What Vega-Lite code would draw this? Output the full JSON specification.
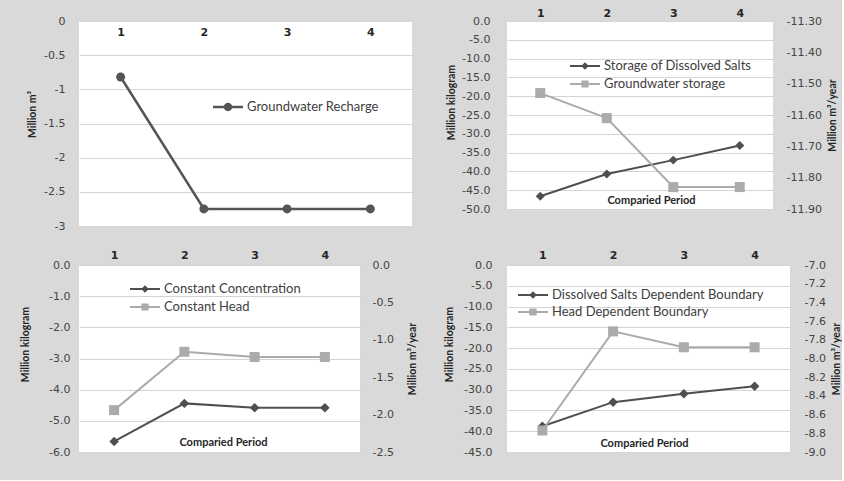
{
  "$schema": "https://vega.github.io/schema/vega-lite/v6.json",
  "background": "#d9d9d9",
  "padding": {"left": 20, "top": 7, "right": 0, "bottom": 23},
  "columns": 2,
  "align": "each",
  "bounds": "flush",
  "spacing": {"row": 39, "column": 95},
  "resolve": {"scale": {"color": "independent", "shape": "independent"}, "legend": {"color": "independent", "shape": "independent"}},
  "concat": [
    {
      "width": 333,
      "height": 205,
      "data": {"values": [
        {"period": "1", "series": "Groundwater Recharge", "value": -0.82},
        {"period": "2", "series": "Groundwater Recharge", "value": -2.75},
        {"period": "3", "series": "Groundwater Recharge", "value": -2.75},
        {"period": "4", "series": "Groundwater Recharge", "value": -2.75}
      ]},
      "encoding": {
        "x": {"field": "period", "type": "ordinal", "scale": {"type": "point", "padding": 0.5, "domain": ["1", "2", "3", "4"]},
          "axis": {"orient": "top", "title": null, "labelAngle": 0, "labelPadding": -11, "labelBaseline": "middle", "labelFontWeight": "bold", "labelColor": "#262626", "grid": false, "tickSize": 0}},
        "y": {"field": "value", "type": "quantitative", "scale": {"domain": [-3, 0], "nice": false, "zero": false},
          "axis": {"values": [0, -0.5, -1, -1.5, -2, -2.5, -3], "format": "~g", "title": "Million m³", "titlePadding": 6, "labelPadding": 14, "grid": true, "titleY": 93}}
      },
      "layer": [
        {"mark": {"type": "line", "color": "#555555", "strokeWidth": 2.5}, "encoding": {}},
        {"mark": {"type": "point", "shape": "circle", "filled": true, "size": 80, "color": "#555555", "opacity": 1}, "encoding": {}},
        {
          "transform": [{"filter": "false"}],
          "mark": {"type": "point", "filled": true},
          "encoding": {
            "color": {"field": "series", "type": "nominal", "scale": {"domain": ["Groundwater Recharge"], "range": ["#555555"]},
              "legend": {"orient": "none", "legendX": 139, "legendY": 76, "title": null}},
            "shape": {"field": "series", "type": "nominal", "scale": {"domain": ["Groundwater Recharge"], "range": ["M-1.5,-0.12L1.5,-0.12L1.5,0.12L-1.5,0.12Z M-0.42,0A0.42,0.42 0 1,1 0.42,0A0.42,0.42 0 1,1 -0.42,0Z"]},
              "legend": {"orient": "none", "legendX": 139, "legendY": 76, "title": null}}
          }
        }
      ]
    },
    {
      "width": 266,
      "height": 188,
      "data": {"values": [
        {"period": "1", "series": "Storage of Dissolved Salts", "value": -46.6},
        {"period": "2", "series": "Storage of Dissolved Salts", "value": -40.7},
        {"period": "3", "series": "Storage of Dissolved Salts", "value": -37.0},
        {"period": "4", "series": "Storage of Dissolved Salts", "value": -33.1},
        {"period": "1", "series": "Groundwater storage", "value": -11.53},
        {"period": "2", "series": "Groundwater storage", "value": -11.61},
        {"period": "3", "series": "Groundwater storage", "value": -11.83},
        {"period": "4", "series": "Groundwater storage", "value": -11.83}
      ]},
      "encoding": {
        "x": {"field": "period", "type": "ordinal", "scale": {"type": "point", "padding": 0.5, "domain": ["1", "2", "3", "4"]},
          "axis": {"orient": "top", "title": "Comparied Period", "titleY": 179, "titleX": 144, "titleBaseline": "middle", "titleFontSize": 11, "labelAngle": 0, "labelPadding": 8, "labelBaseline": "middle", "labelFontWeight": "bold", "labelColor": "#262626", "grid": false, "tickSize": 0}}
      },
      "layer": [
        {
          "transform": [{"filter": "datum.series === 'Storage of Dissolved Salts'"}],
          "encoding": {"y": {"field": "value", "type": "quantitative", "scale": {"domain": [-50, 0], "nice": false, "zero": false},
            "axis": {"orient": "left", "values": [0, -5, -10, -15, -20, -25, -30, -35, -40, -45, -50], "format": ".1f", "title": "Million kilogram", "titlePadding": 5, "labelPadding": 17, "grid": true, "titleY": 81}}},
          "layer": [
            {"mark": {"type": "line", "color": "#4f4f4f", "strokeWidth": 2}, "encoding": {}},
            {"mark": {"type": "point", "shape": "diamond", "filled": true, "size": 80, "color": "#4f4f4f", "opacity": 1}, "encoding": {}}
          ]
        },
        {
          "transform": [{"filter": "datum.series === 'Groundwater storage'"}],
          "encoding": {"y": {"field": "value", "type": "quantitative", "scale": {"domain": [-11.9, -11.3], "nice": false, "zero": false},
            "axis": {"orient": "right", "values": [-11.3, -11.4, -11.5, -11.6, -11.7, -11.8, -11.9], "format": ".2f", "title": "Million m³/year", "titleAngle": 270, "titlePadding": 16, "labelPadding": 13, "grid": false}}},
          "layer": [
            {"mark": {"type": "line", "color": "#ababab", "strokeWidth": 2}, "encoding": {}},
            {"mark": {"type": "point", "shape": "square", "filled": true, "size": 100, "color": "#ababab", "opacity": 1}, "encoding": {}}
          ]
        },
        {
          "transform": [{"filter": "false"}],
          "mark": {"type": "point", "filled": true},
          "encoding": {
            "color": {"field": "series", "type": "nominal", "scale": {"domain": ["Storage of Dissolved Salts", "Groundwater storage"], "range": ["#4f4f4f", "#ababab"]},
              "legend": {"orient": "none", "legendX": 68, "legendY": 35, "title": null}},
            "shape": {"field": "series", "type": "nominal", "scale": {"domain": ["Storage of Dissolved Salts", "Groundwater storage"], "range": ["M-1.5,-0.1L1.5,-0.1L1.5,0.1L-1.5,0.1Z M0,-0.38L0.38,0L0,0.38L-0.38,0Z", "M-1.5,-0.1L1.5,-0.1L1.5,0.1L-1.5,0.1Z M-0.36,-0.36L0.36,-0.36L0.36,0.36L-0.36,0.36Z"]},
              "legend": {"orient": "none", "legendX": 68, "legendY": 35, "title": null}}
          }
        }
      ],
      "resolve": {"scale": {"y": "independent"}}
    },
    {
      "width": 281,
      "height": 187,
      "data": {"values": [
        {"period": "1", "series": "Constant Concentration", "value": -5.66},
        {"period": "2", "series": "Constant Concentration", "value": -4.44},
        {"period": "3", "series": "Constant Concentration", "value": -4.58},
        {"period": "4", "series": "Constant Concentration", "value": -4.58},
        {"period": "1", "series": "Constant Head", "value": -1.94},
        {"period": "2", "series": "Constant Head", "value": -1.16},
        {"period": "3", "series": "Constant Head", "value": -1.23},
        {"period": "4", "series": "Constant Head", "value": -1.23}
      ]},
      "encoding": {
        "x": {"field": "period", "type": "ordinal", "scale": {"type": "point", "padding": 0.5, "domain": ["1", "2", "3", "4"]},
          "axis": {"orient": "top", "title": "Comparied Period", "titleY": 177, "titleX": 144, "titleBaseline": "middle", "titleFontSize": 11, "labelAngle": 0, "labelPadding": 10, "labelBaseline": "middle", "labelFontWeight": "bold", "labelColor": "#262626", "grid": false, "tickSize": 0}}
      },
      "layer": [
        {
          "transform": [{"filter": "datum.series === 'Constant Concentration'"}],
          "encoding": {"y": {"field": "value", "type": "quantitative", "scale": {"domain": [-6, 0], "nice": false, "zero": false},
            "axis": {"orient": "left", "values": [0, -1, -2, -3, -4, -5, -6], "format": ".1f", "title": "Million kilogram", "titlePadding": 18, "labelPadding": 9, "grid": true, "titleY": 79}}},
          "layer": [
            {"mark": {"type": "line", "color": "#4f4f4f", "strokeWidth": 2}, "encoding": {}},
            {"mark": {"type": "point", "shape": "diamond", "filled": true, "size": 90, "color": "#4f4f4f", "opacity": 1}, "encoding": {}}
          ]
        },
        {
          "transform": [{"filter": "datum.series === 'Constant Head'"}],
          "encoding": {"y": {"field": "value", "type": "quantitative", "scale": {"domain": [-2.5, 0], "nice": false, "zero": false},
            "axis": {"orient": "right", "values": [0, -0.5, -1, -1.5, -2, -2.5], "format": ".1f", "title": "Million m³/year", "titleAngle": 270, "titlePadding": 24, "labelPadding": 12, "grid": false}}},
          "layer": [
            {"mark": {"type": "line", "color": "#ababab", "strokeWidth": 2}, "encoding": {}},
            {"mark": {"type": "point", "shape": "square", "filled": true, "size": 100, "color": "#ababab", "opacity": 1}, "encoding": {}}
          ]
        },
        {
          "transform": [{"filter": "false"}],
          "mark": {"type": "point", "filled": true},
          "encoding": {
            "color": {"field": "series", "type": "nominal", "scale": {"domain": ["Constant Concentration", "Constant Head"], "range": ["#4f4f4f", "#ababab"]},
              "legend": {"orient": "none", "legendX": 56, "legendY": 14, "title": null}},
            "shape": {"field": "series", "type": "nominal", "scale": {"domain": ["Constant Concentration", "Constant Head"], "range": ["M-1.5,-0.1L1.5,-0.1L1.5,0.1L-1.5,0.1Z M0,-0.38L0.38,0L0,0.38L-0.38,0Z", "M-1.5,-0.1L1.5,-0.1L1.5,0.1L-1.5,0.1Z M-0.36,-0.36L0.36,-0.36L0.36,0.36L-0.36,0.36Z"]},
              "legend": {"orient": "none", "legendX": 56, "legendY": 14, "title": null}}
          }
        }
      ],
      "resolve": {"scale": {"y": "independent"}}
    },
    {
      "width": 283,
      "height": 187,
      "data": {"values": [
        {"period": "1", "series": "Dissolved Salts Dependent Boundary", "value": -38.8},
        {"period": "2", "series": "Dissolved Salts Dependent Boundary", "value": -33.0},
        {"period": "3", "series": "Dissolved Salts Dependent Boundary", "value": -31.0},
        {"period": "4", "series": "Dissolved Salts Dependent Boundary", "value": -29.2},
        {"period": "1", "series": "Head Dependent Boundary", "value": -8.77},
        {"period": "2", "series": "Head Dependent Boundary", "value": -7.71},
        {"period": "3", "series": "Head Dependent Boundary", "value": -7.88},
        {"period": "4", "series": "Head Dependent Boundary", "value": -7.88}
      ]},
      "encoding": {
        "x": {"field": "period", "type": "ordinal", "scale": {"type": "point", "padding": 0.5, "domain": ["1", "2", "3", "4"]},
          "axis": {"orient": "top", "title": "Comparied Period", "titleY": 178, "titleX": 137, "titleBaseline": "middle", "titleFontSize": 11, "labelAngle": 0, "labelPadding": 10, "labelBaseline": "middle", "labelFontWeight": "bold", "labelColor": "#262626", "grid": false, "tickSize": 0}}
      },
      "layer": [
        {
          "transform": [{"filter": "datum.series === 'Dissolved Salts Dependent Boundary'"}],
          "encoding": {"y": {"field": "value", "type": "quantitative", "scale": {"domain": [-45, 0], "nice": false, "zero": false},
            "axis": {"orient": "left", "values": [0, -5, -10, -15, -20, -25, -30, -35, -40, -45], "format": ".1f", "title": "Million kilogram", "titlePadding": 9, "labelPadding": 15, "grid": true, "titleY": 79}}},
          "layer": [
            {"mark": {"type": "line", "color": "#4f4f4f", "strokeWidth": 2}, "encoding": {}},
            {"mark": {"type": "point", "shape": "diamond", "filled": true, "size": 90, "color": "#4f4f4f", "opacity": 1}, "encoding": {}}
          ]
        },
        {
          "transform": [{"filter": "datum.series === 'Head Dependent Boundary'"}],
          "encoding": {"y": {"field": "value", "type": "quantitative", "scale": {"domain": [-9, -7], "nice": false, "zero": false},
            "axis": {"orient": "right", "values": [-7, -7.2, -7.4, -7.6, -7.8, -8, -8.2, -8.4, -8.6, -8.8, -9], "format": ".1f", "title": "Million m³/year", "titleAngle": 270, "titlePadding": 16, "labelPadding": 14, "grid": false}}},
          "layer": [
            {"mark": {"type": "line", "color": "#ababab", "strokeWidth": 2}, "encoding": {}},
            {"mark": {"type": "point", "shape": "square", "filled": true, "size": 100, "color": "#ababab", "opacity": 1}, "encoding": {}}
          ]
        },
        {
          "transform": [{"filter": "false"}],
          "mark": {"type": "point", "filled": true},
          "encoding": {
            "color": {"field": "series", "type": "nominal", "scale": {"domain": ["Dissolved Salts Dependent Boundary", "Head Dependent Boundary"], "range": ["#4f4f4f", "#ababab"]},
              "legend": {"orient": "none", "legendX": 16, "legendY": 20, "title": null, "rowPadding": -2}},
            "shape": {"field": "series", "type": "nominal", "scale": {"domain": ["Dissolved Salts Dependent Boundary", "Head Dependent Boundary"], "range": ["M-1.5,-0.1L1.5,-0.1L1.5,0.1L-1.5,0.1Z M0,-0.38L0.38,0L0,0.38L-0.38,0Z", "M-1.5,-0.1L1.5,-0.1L1.5,0.1L-1.5,0.1Z M-0.36,-0.36L0.36,-0.36L0.36,0.36L-0.36,0.36Z"]},
              "legend": {"orient": "none", "legendX": 16, "legendY": 20, "title": null, "rowPadding": -2}}
          }
        }
      ],
      "resolve": {"scale": {"y": "independent"}}
    }
  ],
  "config": {
    "font": "Lato",
    "view": {"fill": "#ffffff", "stroke": null},
    "axis": {"labelFont": "DejaVu Sans", "labelFontSize": 11, "labelColor": "#454545", "titleFont": "Lato", "titleFontSize": 10.5, "titleFontWeight": "bold", "titleColor": "#262626", "domain": false, "ticks": false, "gridColor": "#d4d4d4", "gridWidth": 1},
    "legend": {"labelFont": "Lato", "labelFontSize": 13, "labelColor": "#404040", "labelLimit": 400, "symbolSize": 400, "symbolStrokeWidth": 0, "symbolOpacity": 1, "rowPadding": 1, "labelOffset": 9, "padding": 0, "offset": 0},
    "locale": {"number": {"decimal": ".", "thousands": ",", "grouping": [3], "currency": ["$", ""], "minus": "-"}}
  }
}
